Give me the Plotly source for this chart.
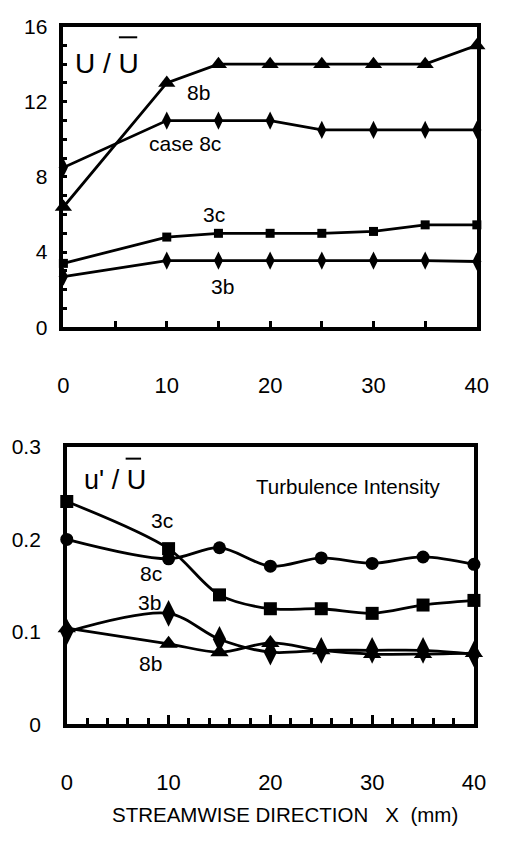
import plotly.graph_objects as go

W, H = 512, 854
FONT = "Liberation Sans Narrow, Arial Narrow, Liberation Sans, Arial, sans-serif"

# streamwise measuring stations (mm)
x_pos = [0, 10, 15, 20, 25, 30, 35, 40]

# mean velocity ratio U / U-bar
vel_8b = [6.4, 13.0, 14.0, 14.0, 14.0, 14.0, 14.0, 15.0]
vel_8c = [8.5, 11.0, 11.0, 11.0, 10.5, 10.5, 10.5, 10.5]
vel_3c = [3.4, 4.8, 5.0, 5.0, 5.0, 5.1, 5.45, 5.45]
vel_3b = [2.7, 3.55, 3.55, 3.55, 3.55, 3.55, 3.55, 3.5]

# turbulence intensity u' / U-bar
ti_3c = [0.241, 0.190, 0.140, 0.125, 0.125, 0.120, 0.129, 0.134]
ti_8c = [0.200, 0.179, 0.191, 0.171, 0.180, 0.174, 0.181, 0.173]
ti_8b = [0.104, 0.087, 0.078, 0.088, 0.080, 0.076, 0.076, 0.077]
ti_3b = [0.100, 0.120, 0.092, 0.078, 0.080, 0.080, 0.080, 0.076]

x_ticks = [0, 10, 20, 30, 40]
vel_ticks = [0, 4, 8, 12, 16]
ti_ticks = [0, 0.1, 0.2, 0.3]


def px(x):
    return x / W


def py(y):
    return 1 - y / H


fig = go.Figure()


def add_series(xa, ya, y, symbol, size, spline=False):
    fig.add_trace(go.Scatter(
        x=x_pos, y=y, xaxis=xa, yaxis=ya, mode="lines+markers",
        line=dict(color="black", width=2.8,
                  shape="spline" if spline else "linear", smoothing=0.9),
        marker=dict(symbol=symbol, size=size, color="black"),
        cliponaxis=False, showlegend=False, hoverinfo="skip"))


# upper panel: velocity ratio
add_series("x", "y", vel_3b, "diamond-tall", 13)
add_series("x", "y", vel_3c, "square", 9)
add_series("x", "y", vel_8c, "diamond-tall", 13)
add_series("x", "y", vel_8b, "triangle-up", 15)

# lower panel: turbulence intensity
add_series("x2", "y2", ti_8b, "triangle-up", 16, spline=True)
add_series("x2", "y2", ti_3b, "diamond-tall", 19, spline=True)
add_series("x2", "y2", ti_3c, "square", 13, spline=True)
add_series("x2", "y2", ti_8c, "circle", 13, spline=True)

frame = dict(showline=True, linecolor="black", linewidth=3.5, mirror=True,
             showgrid=False, zeroline=False, tickcolor="black")

fig.update_layout(
    width=W, height=H, margin=dict(l=0, r=0, t=0, b=0),
    paper_bgcolor="white", plot_bgcolor="white",
    font=dict(family=FONT, color="black"),
    xaxis=dict(domain=[px(59.5), px(488)], range=[0, 40], anchor="y",
               tickvals=x_ticks, ticks="inside", ticklen=7, tickwidth=2.5,
               tickfont=dict(size=22), ticklabelstandoff=36,
               minor=dict(dtick=5, ticks="inside", ticklen=7, tickwidth=2.5,
                          tickcolor="black"),
               **frame),
    yaxis=dict(domain=[py(324), py(15)], range=[0, 16], anchor="x",
               tickvals=vel_ticks, ticks="inside", ticklen=4, tickwidth=3,
               tickfont=dict(size=21), ticklabelstandoff=8,
               minor=dict(dtick=1, ticks="inside", ticklen=4, tickwidth=3,
                          tickcolor="black"),
               **frame),
    xaxis2=dict(domain=[px(63), px(485)], range=[0, 40], anchor="y2",
                tickvals=x_ticks, ticks="inside", ticklen=10, tickwidth=2.5,
                tickfont=dict(size=22), ticklabelstandoff=36,
                minor=dict(dtick=2, ticks="inside", ticklen=7, tickwidth=2.5,
                           tickcolor="black"),
                **frame),
    yaxis2=dict(domain=[py(732), py(447)], range=[0, 0.3], anchor="x2",
                tickvals=ti_ticks, ticks="", tickfont=dict(size=21),
                ticklabelstandoff=18, **frame),
)

labels = [
    ("U / U", 105, 53, 28),
    ("8b", 200, 83, 21),
    ("case 8c", 186, 135, 21),
    ("3c", 216, 208, 21),
    ("3b", 224, 282, 21),
    ("u' / U", 113, 481, 27),
    ("Turbulence Intensity", 355, 488, 20.5),
    ("3c", 162, 523, 21),
    ("8c", 150, 577, 21),
    ("3b", 149, 607, 21),
    ("8b", 150, 670, 21),
    ("STREAMWISE DIRECTION   X  (mm)", 289, 825, 20.5),
]
for text, lx, ly, size in labels:
    fig.add_annotation(text=text, x=px(lx), y=py(ly), xref="paper",
                       yref="paper", showarrow=False, xanchor="center",
                       yanchor="middle", font=dict(size=size, family=FONT))

# bars over the mean-velocity symbol U
for x0, x1, yb in [(117, 136, 26), (124, 140, 459)]:
    fig.add_shape(type="line", xref="paper", yref="paper",
                  x0=px(x0), x1=px(x1), y0=py(yb), y1=py(yb),
                  line=dict(color="black", width=2))

fig.write_html("out.html")
